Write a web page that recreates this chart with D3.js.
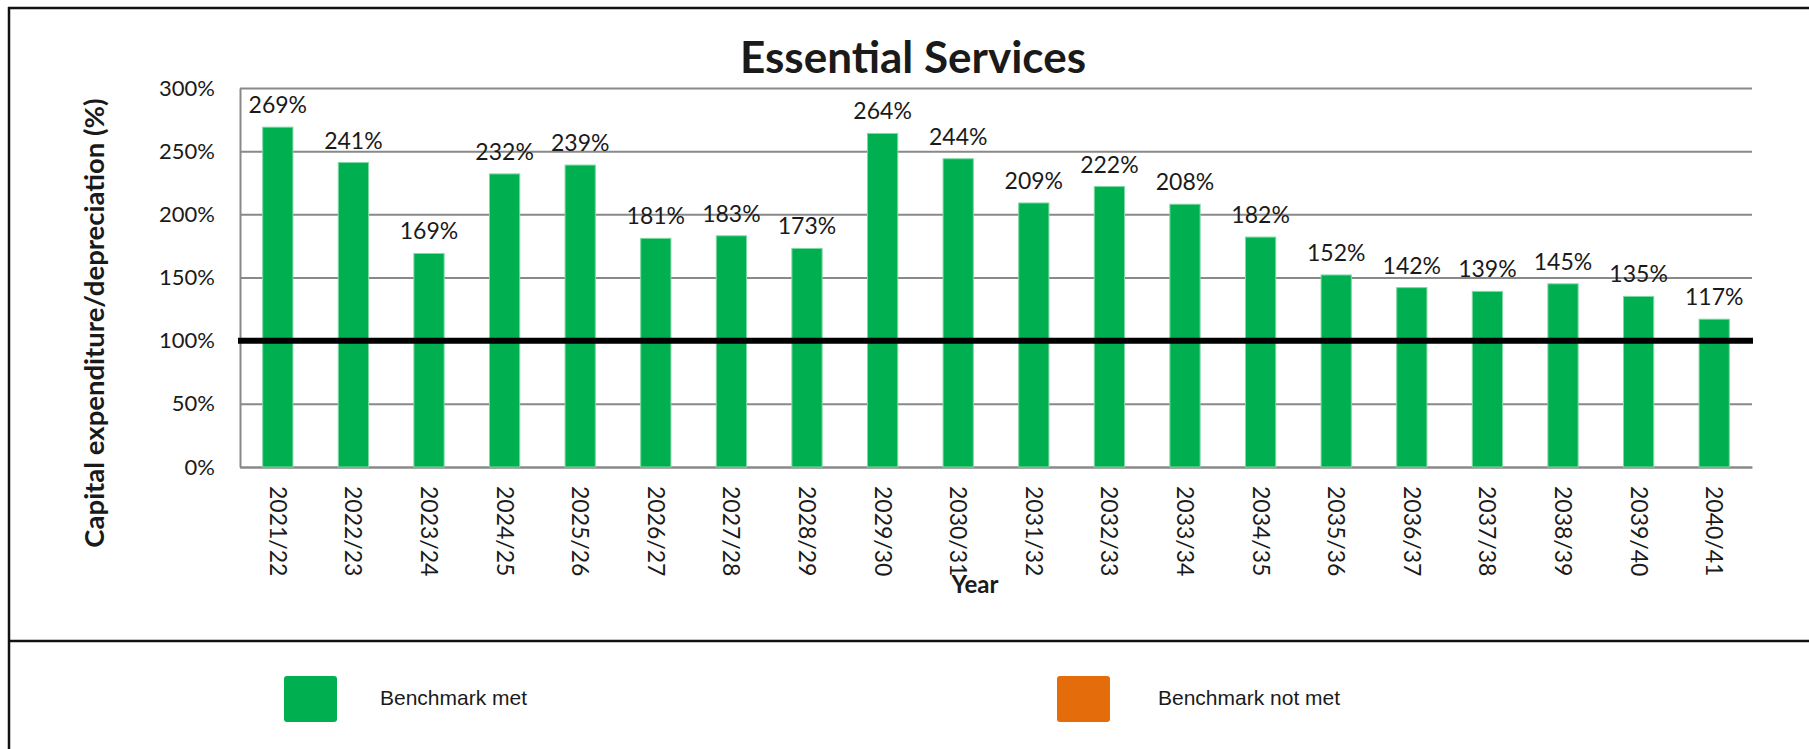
<!DOCTYPE html>
<html>
<head>
<meta charset="utf-8">
<script src="https://cdn.jsdelivr.net/npm/d3@7"></script>
<style>
    body { margin: 0; background: #ffffff; }
    text { font-family: Lato, "Open Sans", sans-serif; fill: #1a1a1a; }
</style>
</head>
<body>
<script>
const width = 1809;
const height = 749;

// chart data
const years = ["2021/22", "2022/23", "2023/24", "2024/25", "2025/26", "2026/27", "2027/28",
    "2028/29", "2029/30", "2030/31", "2031/32", "2032/33", "2033/34", "2034/35", "2035/36",
    "2036/37", "2037/38", "2038/39", "2039/40", "2040/41"];
const ratios = [269, 241, 169, 232, 239, 181, 183, 173, 264, 244, 209, 222, 208, 182, 152,
    142, 139, 145, 135, 117];
const yTicks = [0, 50, 100, 150, 200, 250, 300];
const benchmark = 100;
const legendLabels = ["Benchmark met", "Benchmark not met"];

const green = "#00b050";
const orange = "#e46c0a";

const plot = { left: 240, right: 1752, top: 88, bottom: 467 };

const svg = d3.select("body")
    .append("svg")
    .attr("width", width)
    .attr("height", height)
    .attr("id", "svg");

svg.append("rect")
    .attr("width", width)
    .attr("height", height)
    .attr("fill", "#ffffff");

const xScale = d3.scaleBand()
    .domain(years)
    .range([plot.left, plot.right])
    .paddingInner(0.6)
    .paddingOuter(0.3);

const yScale = d3.scaleLinear()
    .domain([0, 300])
    .range([plot.bottom, plot.top]);

// frame lines
svg.append("line")
    .attr("x1", 8).attr("x2", width)
    .attr("y1", 8).attr("y2", 8)
    .attr("stroke", "#111").attr("stroke-width", 2.5);
svg.append("line")
    .attr("x1", 9).attr("x2", 9)
    .attr("y1", 7).attr("y2", height)
    .attr("stroke", "#111").attr("stroke-width", 2.5);
svg.append("line")
    .attr("x1", 8).attr("x2", width)
    .attr("y1", 641).attr("y2", 641)
    .attr("stroke", "#111").attr("stroke-width", 2.5);

// y axis + gridlines
const yAxis = svg.append("g")
    .attr("transform", `translate(${plot.left},0)`)
    .call(d3.axisLeft(yScale)
        .tickValues(yTicks)
        .tickFormat(d => d + "%")
        .tickSize(-(plot.right - plot.left))
        .tickSizeOuter(0)
        .tickPadding(25));

yAxis.select(".domain").attr("stroke", "#898989").attr("stroke-width", 2);
yAxis.selectAll(".tick line").attr("stroke", "#898989").attr("stroke-width", 2);
yAxis.selectAll(".tick text")
    .attr("font-size", 22)
    .attr("fill", "#1a1a1a")
    .style("font-family", "Lato, 'Open Sans', sans-serif");

// x axis
const xAxis = svg.append("g")
    .attr("transform", `translate(0,${plot.bottom})`)
    .call(d3.axisBottom(xScale).tickSize(0).tickSizeOuter(0));

xAxis.select(".domain").attr("stroke", "#898989").attr("stroke-width", 2);
xAxis.selectAll(".tick text")
    .attr("transform", "rotate(90)")
    .attr("x", 19)
    .attr("y", 0)
    .attr("dy", "0.35em")
    .attr("text-anchor", "start")
    .attr("font-size", 23)
    .attr("fill", "#1a1a1a")
    .style("font-family", "Lato, 'Open Sans', sans-serif");

// bars
svg.append("g")
    .selectAll("rect")
    .data(ratios)
    .enter()
    .append("rect")
    .attr("x", (d, i) => xScale(years[i]))
    .attr("y", d => yScale(d))
    .attr("width", xScale.bandwidth())
    .attr("height", d => yScale(0) - yScale(d))
    .attr("fill", d => d >= benchmark ? green : orange)
    .attr("stroke", "#7fd8a3")
    .attr("stroke-width", 1);

// benchmark line
svg.append("line")
    .attr("x1", plot.left - 2)
    .attr("x2", plot.right + 1)
    .attr("y1", yScale(benchmark))
    .attr("y2", yScale(benchmark))
    .attr("stroke", "#000")
    .attr("stroke-width", 6);

// data labels
svg.append("g")
    .selectAll("text")
    .data(ratios)
    .enter()
    .append("text")
    .attr("x", (d, i) => xScale(years[i]) + xScale.bandwidth() / 2)
    .attr("y", d => yScale(d) - 14)
    .attr("text-anchor", "middle")
    .attr("font-size", 23)
    .text(d => d + "%");

// titles
svg.append("text")
    .attr("x", 913)
    .attr("y", 73)
    .attr("text-anchor", "middle")
    .attr("font-size", 44)
    .attr("font-weight", "bold")
    .attr("fill", "#000")
    .text("Essential Services");

svg.append("text")
    .attr("transform", "translate(104,323) rotate(-90)")
    .attr("text-anchor", "middle")
    .attr("font-size", 27.5)
    .attr("font-weight", "bold")
    .attr("fill", "#000")
    .text("Capital expenditure/depreciation (%)");

svg.append("text")
    .attr("x", 975)
    .attr("y", 593)
    .attr("text-anchor", "middle")
    .attr("font-size", 24)
    .attr("font-weight", "bold")
    .attr("fill", "#000")
    .text("Year");

// legend
const legendX = [284, 1057];
const legend = svg.append("g")
    .selectAll("g")
    .data(legendLabels)
    .enter()
    .append("g")
    .attr("transform", (d, i) => `translate(${legendX[i]},676)`);

legend.append("rect")
    .attr("width", 53)
    .attr("height", 46)
    .attr("rx", 3)
    .attr("fill", (d, i) => i === 0 ? green : orange);

legend.append("text")
    .attr("x", (d, i) => i === 0 ? 96 : 101)
    .attr("y", 29)
    .attr("font-size", 21)
    .style("font-family", "'Liberation Sans', Arial, sans-serif")
    .attr("fill", "#222")
    .text(d => d);
</script>
</body>
</html>
